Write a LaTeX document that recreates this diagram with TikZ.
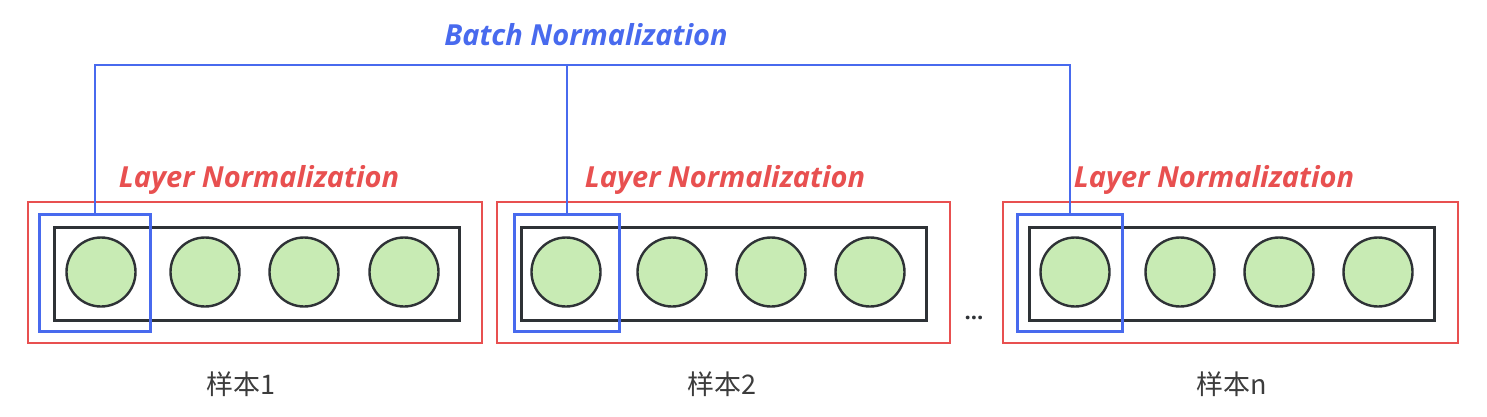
\documentclass[tikz,border=0pt]{standalone}
\usepackage{fontspec}
\setmainfont{Open Sans}
\newfontfamily\cjk{Noto Sans CJK SC}
\definecolor{lnred}{RGB}{232,80,80}
\definecolor{bnblue}{RGB}{72,106,238}
\definecolor{cellgreen}{RGB}{200,235,180}
\definecolor{edgegray}{RGB}{46,50,54}
\definecolor{txtgray}{RGB}{60,60,60}
\begin{document}
\begin{tikzpicture}[x=1pt,y=-1pt,
  redbox/.style={draw=lnred,line width=2pt,inner sep=0pt,minimum width=454pt,minimum height=141pt},
  rowbox/.style={draw=edgegray,line width=3pt,inner sep=0pt,minimum width=405pt,minimum height=93pt},
  cell/.style={circle,draw=edgegray,fill=cellgreen,line width=2.4pt,inner sep=0pt,minimum size=69pt},
  bluebox/.style={draw=bnblue,line width=3pt,inner sep=0pt,minimum height=117pt},
  bnline/.style={draw=bnblue,line width=2pt},
  lnlabel/.style={text=lnred,font=\fontsize{29}{34}\selectfont\bfseries\itshape},
  bnlabel/.style={text=bnblue,font=\fontsize{29}{34}\selectfont\bfseries\itshape},
  sample/.style={text=txtgray,font=\cjk\fontsize{27}{31}\selectfont}]
\useasboundingbox (0,0) rectangle (1487,417);
% group 1
\node[redbox] (r1) at (254.5,272.5) {};
\node[rowbox] (k1) at (257,273.5) {};
\node[cell] (c11) at (101,272) {};
\node[cell] (c12) at (205,272) {};
\node[cell] (c13) at (304,272) {};
\node[cell] (c14) at (404,272) {};
\node[bluebox,minimum width=111pt] (b1) at (94.5,273) {};
\node[lnlabel] (l1) at (259,180) {Layer Normalization};
\node[sample] (s1) at (241,384) {样本1};
% group 2
\node[redbox,minimum width=453pt] (r2) at (723.5,272.5) {};
\node[rowbox] (k2) at (723.5,273.5) {};
\node[cell] (c21) at (566,272) {};
\node[cell] (c22) at (672,272) {};
\node[cell] (c23) at (771,272) {};
\node[cell] (c24) at (870,272) {};
\node[bluebox,minimum width=105pt] (b2) at (566.5,273) {};
\node[lnlabel] (l2) at (725,180) {Layer Normalization};
\node[sample] (s2) at (722,384) {样本2};
% group 3
\node[redbox,minimum width=455pt] (r3) at (1230.5,272.5) {};
\node[rowbox] (k3) at (1231.5,273.5) {};
\node[cell] (c31) at (1075,272) {};
\node[cell] (c32) at (1180,272) {};
\node[cell] (c33) at (1279,272) {};
\node[cell] (c34) at (1378,272) {};
\node[bluebox,minimum width=105pt] (b3) at (1069.5,273) {};
\node[lnlabel] (l3) at (1214,180) {Layer Normalization};
\node[sample] (s3) at (1232,384) {样本n};
% dots
\node[text=edgegray,font=\fontsize{22}{26}\selectfont\bfseries] (dots) at (974,318) {...};
% batch normalization
\coordinate (top) at (566.5,65);
\node[bnlabel] (bn) at (586,35) {Batch Normalization};
\draw[bnline] (b1.north) |- (top) -| (b3.north);
\draw[bnline] (b2.north) -- (top);
\end{tikzpicture}
\end{document}
